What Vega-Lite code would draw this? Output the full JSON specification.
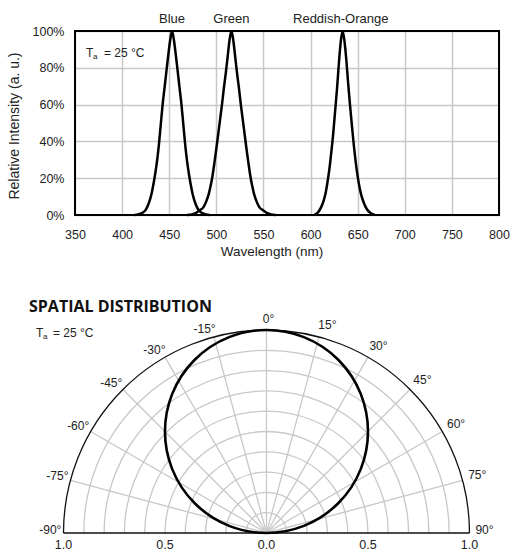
{
  "$schema": "https://vega.github.io/schema/vega-lite/v6.json",
  "padding": {"left": 7, "top": 13, "right": 0, "bottom": 0},
  "bounds": "flush",
  "spacing": 115,
  "config": {
    "font": "Liberation Sans",
    "axis": {"labelFont": "Liberation Sans", "labelFontSize": 12.5, "labelColor": "#222", "titleFont": "Liberation Sans", "titleFontSize": 13.5, "titleFontWeight": "normal", "titleColor": "#222", "gridColor": "#c8c8c8", "gridWidth": 1.5, "domain": false, "ticks": false, "labelFlush": false, "labelOverlap": false},
    "text": {"font": "Liberation Sans", "fontSize": 12, "color": "#222"}
  },
  "vconcat": [
    {
      "width": 424,
      "height": 184,
      "view": {"stroke": null},
      "layer": [
        {
          "data": {"values": [
            {"series":"Blue","wl":413,"v":0},{"series":"Blue","wl":417,"v":0.003},{"series":"Blue","wl":421,"v":0.01},{"series":"Blue","wl":425,"v":0.028},{"series":"Blue","wl":428,"v":0.06},{"series":"Blue","wl":431,"v":0.11},{"series":"Blue","wl":433,"v":0.16},{"series":"Blue","wl":435,"v":0.22},{"series":"Blue","wl":437,"v":0.29},{"series":"Blue","wl":439,"v":0.38},{"series":"Blue","wl":441,"v":0.49},{"series":"Blue","wl":443,"v":0.6},{"series":"Blue","wl":445,"v":0.69},{"series":"Blue","wl":447,"v":0.78},{"series":"Blue","wl":449,"v":0.87},{"series":"Blue","wl":451,"v":0.95},{"series":"Blue","wl":453,"v":1},{"series":"Blue","wl":455,"v":0.95},{"series":"Blue","wl":457,"v":0.87},{"series":"Blue","wl":459,"v":0.78},{"series":"Blue","wl":461,"v":0.69},{"series":"Blue","wl":463,"v":0.6},{"series":"Blue","wl":465,"v":0.49},{"series":"Blue","wl":467,"v":0.38},{"series":"Blue","wl":469,"v":0.29},{"series":"Blue","wl":471,"v":0.22},{"series":"Blue","wl":473,"v":0.16},{"series":"Blue","wl":475,"v":0.11},{"series":"Blue","wl":478,"v":0.06},{"series":"Blue","wl":481,"v":0.028},{"series":"Blue","wl":485,"v":0.01},{"series":"Blue","wl":489,"v":0.003},{"series":"Blue","wl":493,"v":0},
            {"series":"Green","wl":469,"v":0},{"series":"Green","wl":474,"v":0.003},{"series":"Green","wl":478,"v":0.01},{"series":"Green","wl":482,"v":0.025},{"series":"Green","wl":486,"v":0.04},{"series":"Green","wl":489,"v":0.07},{"series":"Green","wl":492,"v":0.115},{"series":"Green","wl":494,"v":0.16},{"series":"Green","wl":496,"v":0.215},{"series":"Green","wl":498,"v":0.285},{"series":"Green","wl":500,"v":0.36},{"series":"Green","wl":502,"v":0.44},{"series":"Green","wl":504,"v":0.52},{"series":"Green","wl":506,"v":0.6},{"series":"Green","wl":508,"v":0.69},{"series":"Green","wl":510,"v":0.77},{"series":"Green","wl":512,"v":0.86},{"series":"Green","wl":514,"v":0.95},{"series":"Green","wl":516,"v":1},{"series":"Green","wl":518,"v":0.95},{"series":"Green","wl":520,"v":0.86},{"series":"Green","wl":522,"v":0.77},{"series":"Green","wl":524,"v":0.69},{"series":"Green","wl":526,"v":0.6},{"series":"Green","wl":528,"v":0.52},{"series":"Green","wl":530,"v":0.44},{"series":"Green","wl":532,"v":0.36},{"series":"Green","wl":534,"v":0.285},{"series":"Green","wl":536,"v":0.215},{"series":"Green","wl":538,"v":0.16},{"series":"Green","wl":540,"v":0.115},{"series":"Green","wl":543,"v":0.07},{"series":"Green","wl":546,"v":0.04},{"series":"Green","wl":550,"v":0.025},{"series":"Green","wl":554,"v":0.01},{"series":"Green","wl":558,"v":0.003},{"series":"Green","wl":563,"v":0},
            {"series":"Reddish-Orange","wl":604,"v":0},{"series":"Reddish-Orange","wl":608,"v":0.015},{"series":"Reddish-Orange","wl":611,"v":0.04},{"series":"Reddish-Orange","wl":614,"v":0.08},{"series":"Reddish-Orange","wl":616,"v":0.12},{"series":"Reddish-Orange","wl":618,"v":0.18},{"series":"Reddish-Orange","wl":620,"v":0.25},{"series":"Reddish-Orange","wl":622,"v":0.34},{"series":"Reddish-Orange","wl":624,"v":0.44},{"series":"Reddish-Orange","wl":626,"v":0.56},{"series":"Reddish-Orange","wl":628,"v":0.68},{"series":"Reddish-Orange","wl":630,"v":0.82},{"series":"Reddish-Orange","wl":632,"v":0.94},{"series":"Reddish-Orange","wl":634,"v":1},{"series":"Reddish-Orange","wl":636,"v":0.945},{"series":"Reddish-Orange","wl":638,"v":0.84},{"series":"Reddish-Orange","wl":640,"v":0.71},{"series":"Reddish-Orange","wl":642,"v":0.59},{"series":"Reddish-Orange","wl":644,"v":0.48},{"series":"Reddish-Orange","wl":646,"v":0.375},{"series":"Reddish-Orange","wl":648,"v":0.285},{"series":"Reddish-Orange","wl":650,"v":0.21},{"series":"Reddish-Orange","wl":652,"v":0.15},{"series":"Reddish-Orange","wl":654,"v":0.105},{"series":"Reddish-Orange","wl":657,"v":0.06},{"series":"Reddish-Orange","wl":660,"v":0.03},{"series":"Reddish-Orange","wl":664,"v":0.01},{"series":"Reddish-Orange","wl":668,"v":0}
          ]},
          "mark": {"type": "line", "color": "black", "strokeWidth": 2.5, "interpolate": "monotone"},
          "encoding": {
            "x": {"field": "wl", "type": "quantitative", "scale": {"domain": [350, 800], "nice": false, "zero": false},
                  "axis": {"values": [350,400,450,500,550,600,650,700,750,800], "tickCount": 10, "title": "Wavelength (nm)", "labelPadding": 13.5, "titleX": 196.5, "titleY": 36, "titleBaseline": "middle"}},
            "y": {"field": "v", "type": "quantitative", "scale": {"domain": [0, 1], "nice": false, "zero": false},
                  "axis": {"values": [0,0.2,0.4,0.6,0.8,1], "tickCount": 6, "format": ".0%", "title": "Relative Intensity (a. u.)", "labelPadding": 11, "titleX": -61, "titleY": 94.5, "titleAngle": 270, "titleBaseline": "middle", "titleFontSize": 14}},
            "detail": {"field": "series"}
          }
        },
        {
          "data": {"values": [{"frame": "plot"}]},
          "mark": {"type": "rect", "filled": false, "stroke": "black", "strokeWidth": 2},
          "encoding": {
            "x": {"datum": 350, "type": "quantitative"},
            "x2": {"datum": 800},
            "y": {"datum": 0, "type": "quantitative"},
            "y2": {"datum": 1}
          }
        },
        {
          "data": {"values": [{"name": "Blue", "peak": 453}, {"name": "Green", "peak": 516}, {"name": "Reddish-Orange", "peak": 632}]},
          "mark": {"type": "text", "align": "center", "baseline": "alphabetic", "dy": -8, "fontSize": 13},
          "encoding": {
            "x": {"field": "peak", "type": "quantitative"},
            "y": {"datum": 1, "type": "quantitative"},
            "text": {"field": "name"}
          }
        },
        {
          "data": {"values": [{"note": "Ta"}]},
          "layer": [
            {"mark": {"type": "text", "align": "left", "baseline": "middle"}, "encoding": {"x": {"datum": 361.7, "type": "quantitative"}, "y": {"datum": 0.88, "type": "quantitative"}, "text": {"value": "T"}}},
            {"mark": {"type": "text", "align": "left", "baseline": "middle", "fontSize": 8, "dx": 7, "dy": 4}, "encoding": {"x": {"datum": 361.7, "type": "quantitative"}, "y": {"datum": 0.88, "type": "quantitative"}, "text": {"value": "a"}}},
            {"mark": {"type": "text", "align": "left", "baseline": "middle", "dx": 18}, "encoding": {"x": {"datum": 361.7, "type": "quantitative"}, "y": {"datum": 0.88, "type": "quantitative"}, "text": {"value": "= 25 °C"}}}
          ]
        }
      ]
    },
    {
      "width": 395,
      "height": 203,
      "view": {"stroke": null},
      "layer": [
        {
          "data": {"values": [{"r":0.1},{"r":0.2},{"r":0.3},{"r":0.4},{"r":0.5},{"r":0.6},{"r":0.7},{"r":0.8},{"r":0.9}]},
          "mark": {"type": "arc", "filled": false, "stroke": "#c8c8c8", "strokeWidth": 1.3},
          "encoding": {
            "x": {"datum": 0, "type": "quantitative", "scale": {"domain": [-0.9433, 1.0026], "nice": false, "zero": false}, "axis": null},
            "y": {"datum": 0, "type": "quantitative", "scale": {"domain": [0, 1], "nice": false, "zero": false}, "axis": null},
            "theta": {"datum": -90, "type": "quantitative", "scale": {"type": "linear", "domain": [-90, 90], "range": [-1.5707963, 1.5707963]}},
            "theta2": {"datum": 90},
            "radius": {"field": "r", "type": "quantitative", "scale": {"type": "linear", "domain": [0, 1], "range": [0, 203], "zero": false}},
            "radius2": {"field": "r"}
          }
        },
        {
          "data": {"values": [{"a":-75},{"a":-60},{"a":-45},{"a":-30},{"a":-15},{"a":0},{"a":15},{"a":30},{"a":45},{"a":60},{"a":75}]},
          "mark": {"type": "arc", "filled": false, "stroke": "#c8c8c8", "strokeWidth": 1.3},
          "encoding": {
            "x": {"datum": 0, "type": "quantitative"},
            "y": {"datum": 0, "type": "quantitative"},
            "theta": {"field": "a", "type": "quantitative", "scale": {"type": "linear", "domain": [-90, 90], "range": [-1.5707963, 1.5707963]}},
            "theta2": {"field": "a"},
            "radius": {"datum": 1, "type": "quantitative", "scale": {"type": "linear", "domain": [0, 1], "range": [0, 203], "zero": false}},
            "radius2": {"datum": 0}
          }
        },
        {
          "data": {"values": [{"r": 1}]},
          "mark": {"type": "arc", "filled": false, "stroke": "#111", "strokeWidth": 1.3},
          "encoding": {
            "x": {"datum": 0, "type": "quantitative"},
            "y": {"datum": 0, "type": "quantitative"},
            "theta": {"datum": -90, "type": "quantitative", "scale": {"type": "linear", "domain": [-90, 90], "range": [-1.5707963, 1.5707963]}},
            "theta2": {"datum": 90},
            "radius": {"field": "r", "type": "quantitative", "scale": {"type": "linear", "domain": [0, 1], "range": [0, 203], "zero": false}},
            "radius2": {"field": "r"}
          }
        },
        {
          "data": {"values": [{"r": 1}]},
          "mark": {"type": "rule", "color": "#111", "strokeWidth": 1.6},
          "encoding": {
            "x": {"datum": -1, "type": "quantitative"},
            "x2": {"datum": 1},
            "y": {"datum": 0, "type": "quantitative"}
          }
        },
        {
          "data": {"values": [{"pattern": "cos"}]},
          "mark": {"type": "arc", "filled": false, "stroke": "black", "strokeWidth": 2.6},
          "encoding": {
            "x": {"datum": 0, "type": "quantitative"},
            "y": {"datum": 0.5, "type": "quantitative"},
            "theta": {"datum": -180, "type": "quantitative", "scale": {"type": "linear", "domain": [-90, 90], "range": [-1.5707963, 1.5707963]}},
            "theta2": {"datum": 180},
            "radius": {"datum": 0.5, "type": "quantitative", "scale": {"type": "linear", "domain": [0, 1], "range": [0, 203], "zero": false}},
            "radius2": {"datum": 0.5}
          }
        },
        {
          "data": {"values": [{"a":-90,"label":"-90°"},{"a":-75,"label":"-75°"},{"a":-60,"label":"-60°"},{"a":-45,"label":"-45°"},{"a":-30,"label":"-30°"},{"a":-15,"label":"-15°"}]},
          "mark": {"type": "text", "align": "right", "baseline": "middle", "dx": 3, "dy": -3},
          "encoding": {
            "x": {"datum": 0, "type": "quantitative"},
            "y": {"datum": 0, "type": "quantitative"},
            "theta": {"field": "a", "type": "quantitative", "scale": {"type": "linear", "domain": [-90, 90], "range": [-1.5707963, 1.5707963]}},
            "radius": {"datum": 1.025, "type": "quantitative", "scale": {"type": "linear", "domain": [0, 1], "range": [0, 203], "zero": false}},
            "text": {"field": "label"}
          }
        },
        {
          "data": {"values": [{"a":15,"label":"15°"},{"a":30,"label":"30°"},{"a":45,"label":"45°"},{"a":60,"label":"60°"},{"a":75,"label":"75°"},{"a":90,"label":"90°"}]},
          "mark": {"type": "text", "align": "left", "baseline": "middle", "dx": -3, "dy": -3},
          "encoding": {
            "x": {"datum": 0, "type": "quantitative"},
            "y": {"datum": 0, "type": "quantitative"},
            "theta": {"field": "a", "type": "quantitative", "scale": {"type": "linear", "domain": [-90, 90], "range": [-1.5707963, 1.5707963]}},
            "radius": {"datum": 1.044, "type": "quantitative", "scale": {"type": "linear", "domain": [0, 1], "range": [0, 203], "zero": false}},
            "text": {"field": "label"}
          }
        },
        {
          "data": {"values": [{"a":0,"label":"0°"}]},
          "mark": {"type": "text", "align": "center", "baseline": "bottom", "dx": 2},
          "encoding": {
            "x": {"datum": 0, "type": "quantitative"},
            "y": {"datum": 0, "type": "quantitative"},
            "theta": {"field": "a", "type": "quantitative", "scale": {"type": "linear", "domain": [-90, 90], "range": [-1.5707963, 1.5707963]}},
            "radius": {"datum": 1.02, "type": "quantitative", "scale": {"type": "linear", "domain": [0, 1], "range": [0, 203], "zero": false}},
            "text": {"field": "label"}
          }
        },
        {
          "data": {"values": [{"v":-1,"label":"1.0"},{"v":-0.5,"label":"0.5"},{"v":0,"label":"0.0"},{"v":0.5,"label":"0.5"},{"v":1,"label":"1.0"}]},
          "mark": {"type": "text", "align": "center", "baseline": "top", "dy": 6, "fontSize": 12.5},
          "encoding": {
            "x": {"field": "v", "type": "quantitative"},
            "y": {"datum": 0, "type": "quantitative"},
            "text": {"field": "label"}
          }
        },
        {
          "data": {"values": [{"title": "SPATIAL DISTRIBUTION"}]},
          "mark": {"type": "text", "align": "left", "baseline": "alphabetic", "font": "Open Sans", "fontWeight": "bold", "fontSize": 16, "color": "#111"},
          "encoding": {
            "x": {"datum": -1.17, "type": "quantitative"},
            "y": {"datum": 1.0877, "type": "quantitative"},
            "text": {"field": "title"}
          }
        },
        {
          "data": {"values": [{"note": "Ta"}]},
          "layer": [
            {"mark": {"type": "text", "align": "left", "baseline": "middle"}, "encoding": {"x": {"datum": -1.1355, "type": "quantitative"}, "y": {"datum": 0.9867, "type": "quantitative"}, "text": {"value": "T"}}},
            {"mark": {"type": "text", "align": "left", "baseline": "middle", "fontSize": 8, "dx": 7, "dy": 4}, "encoding": {"x": {"datum": -1.1355, "type": "quantitative"}, "y": {"datum": 0.9867, "type": "quantitative"}, "text": {"value": "a"}}},
            {"mark": {"type": "text", "align": "left", "baseline": "middle", "dx": 17}, "encoding": {"x": {"datum": -1.1355, "type": "quantitative"}, "y": {"datum": 0.9867, "type": "quantitative"}, "text": {"value": "= 25 °C"}}}
          ]
        }
      ]
    }
  ]
}
